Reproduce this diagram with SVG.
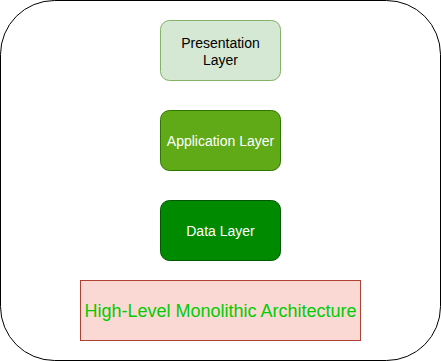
<svg xmlns="http://www.w3.org/2000/svg" width="441" height="361" viewBox="0 0 441 361">
<style>
text{font-family:"Liberation Sans",Arial,Helvetica,sans-serif;text-anchor:middle;dominant-baseline:central}
.sm{font-size:14px}
</style>
<rect width="441" height="361" fill="#ffffff"/>
<g id="container">
<rect x="0.5" y="0.5" width="440" height="360" rx="54" ry="54" fill="#ffffff" stroke="#000000" stroke-width="1"/>
</g>
<g id="presentation">
<rect x="160.5" y="20.5" width="120" height="60" rx="9" ry="9" fill="#d5e8d4" stroke="#82b366"/>
<text class="sm" x="220.5" y="42.5" fill="#000000">Presentation</text>
<text class="sm" x="220.5" y="59.5" fill="#000000">Layer</text>
</g>
<g id="application">
<rect x="160.5" y="110.5" width="120" height="60" rx="9" ry="9" fill="#60a917" stroke="#2d7600"/>
<text class="sm" x="220.5" y="141" fill="#ffffff">Application Layer</text>
</g>
<g id="data">
<rect x="160.5" y="200.5" width="120" height="60" rx="9" ry="9" fill="#008a00" stroke="#005700"/>
<text class="sm" x="220.5" y="231" fill="#ffffff">Data Layer</text>
</g>
<g id="title">
<rect x="80.5" y="280.5" width="280" height="60" fill="#fad9d5" stroke="#ae4132"/>
<text x="220.5" y="311" font-size="18" fill="#00cc00">High-Level Monolithic Architecture</text>
</g>
<g id="connectors"/>
</svg>
